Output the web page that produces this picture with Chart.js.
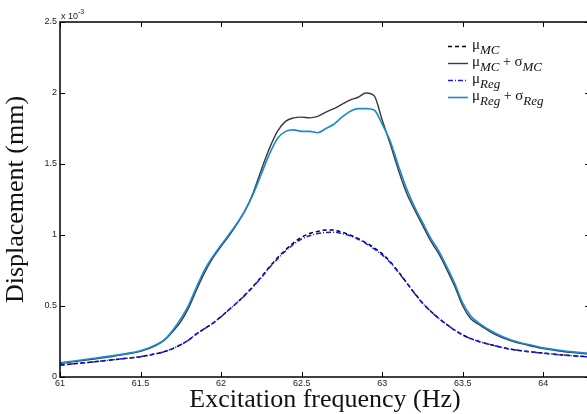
<!DOCTYPE html>
<html>
<head>
<meta charset="utf-8">
<script src="https://cdn.jsdelivr.net/npm/chart.js@4/dist/chart.umd.min.js"></script>
<style>
  html, body { margin: 0; padding: 0; background: #fff; overflow: hidden; }
  .wrap { position: relative; width: 592px; height: 414px; }
</style>
</head>
<body>
<div class="wrap"><canvas id="c"></canvas></div>
<script>
// excitation frequency (Hz)
const freq = [61.00, 61.10, 61.20, 61.30, 61.40, 61.50, 61.60, 61.65, 61.70, 61.75, 61.80, 61.85, 61.90, 61.95,
  62.00, 62.05, 62.10, 62.15, 62.20, 62.25, 62.30, 62.35, 62.40, 62.45, 62.50, 62.55, 62.60, 62.65, 62.70, 62.75,
  62.80, 62.85, 62.90, 62.95, 63.00, 63.05, 63.10, 63.15, 63.20, 63.25, 63.30, 63.35, 63.40, 63.45, 63.50, 63.55,
  63.60, 63.70, 63.80, 63.90, 64.00, 64.10, 64.20, 64.30]

// displacement, x 10^-3 mm
const muMC = [0.083, 0.095, 0.105, 0.118, 0.130, 0.143, 0.165, 0.180, 0.200, 0.228, 0.262, 0.305, 0.342, 0.380,
  0.425, 0.475, 0.525, 0.580, 0.640, 0.705, 0.775, 0.840, 0.895, 0.945, 0.985, 1.010, 1.025, 1.035, 1.035, 1.020,
  1.000, 0.975, 0.945, 0.910, 0.868, 0.812, 0.742, 0.668, 0.592, 0.522, 0.465, 0.415, 0.370, 0.330, 0.296, 0.270,
  0.250, 0.220, 0.195, 0.180, 0.168, 0.157, 0.148, 0.140]
const muMCsd = [0.095, 0.110, 0.125, 0.140, 0.160, 0.180, 0.225, 0.260, 0.320, 0.390, 0.490, 0.620, 0.740, 0.840,
  0.920, 0.995, 1.080, 1.175, 1.300, 1.460, 1.610, 1.730, 1.800, 1.825, 1.830, 1.825, 1.835, 1.865, 1.890, 1.920,
  1.950, 1.970, 2.000, 1.980, 1.810, 1.640, 1.460, 1.300, 1.180, 1.070, 0.960, 0.870, 0.760, 0.640, 0.500, 0.410,
  0.370, 0.300, 0.255, 0.225, 0.200, 0.183, 0.170, 0.160]
const muReg = [0.083, 0.095, 0.105, 0.118, 0.130, 0.143, 0.165, 0.180, 0.200, 0.228, 0.262, 0.305, 0.342, 0.380,
  0.425, 0.475, 0.525, 0.578, 0.637, 0.700, 0.770, 0.832, 0.887, 0.935, 0.972, 0.995, 1.010, 1.018, 1.020, 1.010,
  0.995, 0.970, 0.940, 0.902, 0.860, 0.806, 0.738, 0.665, 0.590, 0.520, 0.464, 0.414, 0.370, 0.330, 0.296, 0.270,
  0.250, 0.220, 0.195, 0.180, 0.168, 0.157, 0.148, 0.140]
const muRegsd = [0.100, 0.115, 0.130, 0.145, 0.163, 0.185, 0.230, 0.265, 0.330, 0.410, 0.510, 0.640, 0.760, 0.850,
  0.930, 1.005, 1.085, 1.175, 1.290, 1.430, 1.570, 1.680, 1.730, 1.740, 1.730, 1.730, 1.720, 1.750, 1.780, 1.830,
  1.870, 1.890, 1.890, 1.880, 1.780, 1.660, 1.490, 1.330, 1.200, 1.090, 0.980, 0.890, 0.780, 0.660, 0.520, 0.430,
  0.380, 0.310, 0.260, 0.230, 0.205, 0.188, 0.175, 0.165]

const xTicks = [61, 61.5, 62, 62.5, 63, 63.5, 64]
const yTicks = [0, 0.5, 1, 1.5, 2, 2.5]

// legend pieces: [text, kind]  kind: 'g' greek upright, 's' italic subscript, 'n' normal
const legendItems = [
  [['μ', 'g'], ['MC', 's']],
  [['μ', 'g'], ['MC', 's'], [' + ', 'n'], ['σ', 'g'], ['MC', 's']],
  [['μ', 'g'], ['Reg', 's']],
  [['μ', 'g'], ['Reg', 's'], [' + ', 'n'], ['σ', 'g'], ['Reg', 's']]
]

const pts = ys => freq.map((f, i) => ({ x: f, y: ys[i] }))

// MATLAB-style box with inward ticks, plus the exponent note and legend
const boxPlugin = {
  id: 'box',
  afterDraw(chart) {
    const { ctx, chartArea: a, scales: { x, y } } = chart
    ctx.save()
    ctx.strokeStyle = '#000'
    ctx.lineWidth = 1.5
    ctx.strokeRect(a.left, a.top, a.right - a.left, a.bottom - a.top)
    ctx.lineWidth = 1
    ctx.beginPath()
    xTicks.forEach(v => {
      const px = Math.round(x.getPixelForValue(v)) + 0.5
      ctx.moveTo(px, a.bottom); ctx.lineTo(px, a.bottom - 5)
      ctx.moveTo(px, a.top); ctx.lineTo(px, a.top + 5)
    })
    yTicks.forEach(v => {
      const py = Math.round(y.getPixelForValue(v)) + 0.5
      ctx.moveTo(a.left, py); ctx.lineTo(a.left + 5, py)
      ctx.moveTo(a.right, py); ctx.lineTo(a.right - 5, py)
    })
    ctx.stroke()

    // exponent
    ctx.fillStyle = '#222'
    ctx.textBaseline = 'alphabetic'
    ctx.font = '9px "Liberation Sans", Arial, sans-serif'
    ctx.fillText('x 10', a.left + 1, a.top - 3)
    const w = ctx.measureText('x 10').width
    ctx.font = '7px "Liberation Sans", Arial, sans-serif'
    ctx.fillText('-3', a.left + 1 + w, a.top - 8)

    // legend
    const ds = chart.data.datasets
    legendItems.forEach((parts, i) => {
      const ly = 46 + i * 17
      ctx.strokeStyle = ds[i].borderColor
      ctx.lineWidth = ds[i].borderWidth
      ctx.setLineDash(ds[i].borderDash || [])
      ctx.beginPath(); ctx.moveTo(448, ly + 0.5); ctx.lineTo(468, ly + 0.5); ctx.stroke()
      ctx.setLineDash([])
      let tx = 472
      ctx.fillStyle = '#111'
      parts.forEach(([t, k]) => {
        let yy = ly + 3
        if (k === 'g') ctx.font = '15px "Liberation Serif", "Times New Roman", serif'
        else if (k === 's') { ctx.font = 'italic 13px "Liberation Serif", "Times New Roman", serif'; yy = ly + 8 }
        else ctx.font = '14px "Liberation Serif", "Times New Roman", serif'
        ctx.fillText(t, tx, yy)
        tx += ctx.measureText(t).width
      })
    })
    ctx.restore()
  }
}

const tickFont = { family: '"Liberation Sans", Arial, sans-serif', size: 9 }
const titleFont = { family: '"Liberation Serif", "Times New Roman", serif', size: 26, lineHeight: 1.1 }

new Chart(document.getElementById('c'), {
  type: 'line',
  data: {
    datasets: [
      { label: 'muMC', data: pts(muMC), borderColor: '#000000', borderWidth: 1.5, borderDash: [4, 3], order: 1 },
      { label: 'muMC+sigmaMC', data: pts(muMCsd), borderColor: '#3a3a3a', borderWidth: 1.4, order: 3 },
      { label: 'muReg', data: pts(muReg), borderColor: '#1818ff', borderWidth: 1.5, borderDash: [5, 2, 1, 2], order: 0 },
      { label: 'muReg+sigmaReg', data: pts(muRegsd), borderColor: '#1a8ad2', borderWidth: 1.6, order: 2 }
    ]
  },
  options: {
    responsive: true,
    maintainAspectRatio: false,
    animation: false,
    layout: { padding: { left: 2, right: 2, top: 22, bottom: 0 } },
    elements: { point: { radius: 0 }, line: { cubicInterpolationMode: 'monotone', fill: false } },
    plugins: { legend: { display: false }, tooltip: { enabled: false } },
    scales: {
      x: {
        type: 'linear', min: 61, max: 64.29,
        grid: { display: false, drawTicks: false },
        border: { display: false },
        ticks: { stepSize: 0.5, includeBounds: false, autoSkip: false, maxRotation: 0, padding: 1,
                 color: '#222', font: tickFont, callback: v => String(v) },
        title: { display: true, text: 'Excitation frequency (Hz)', color: '#111', font: titleFont, padding: 0 },
        afterFit(s) { s.height = 37 }
      },
      y: {
        min: 0, max: 2.5,
        grid: { display: false, drawTicks: false },
        border: { display: false },
        ticks: { stepSize: 0.5, padding: 3, color: '#222', font: tickFont, callback: v => String(v) },
        title: { display: true, text: 'Displacement (mm)', color: '#111', font: titleFont, padding: 0 },
        afterFit(s) { s.width = 58 }
      }
    }
  },
  plugins: [boxPlugin]
})
</script>
</body>
</html>
